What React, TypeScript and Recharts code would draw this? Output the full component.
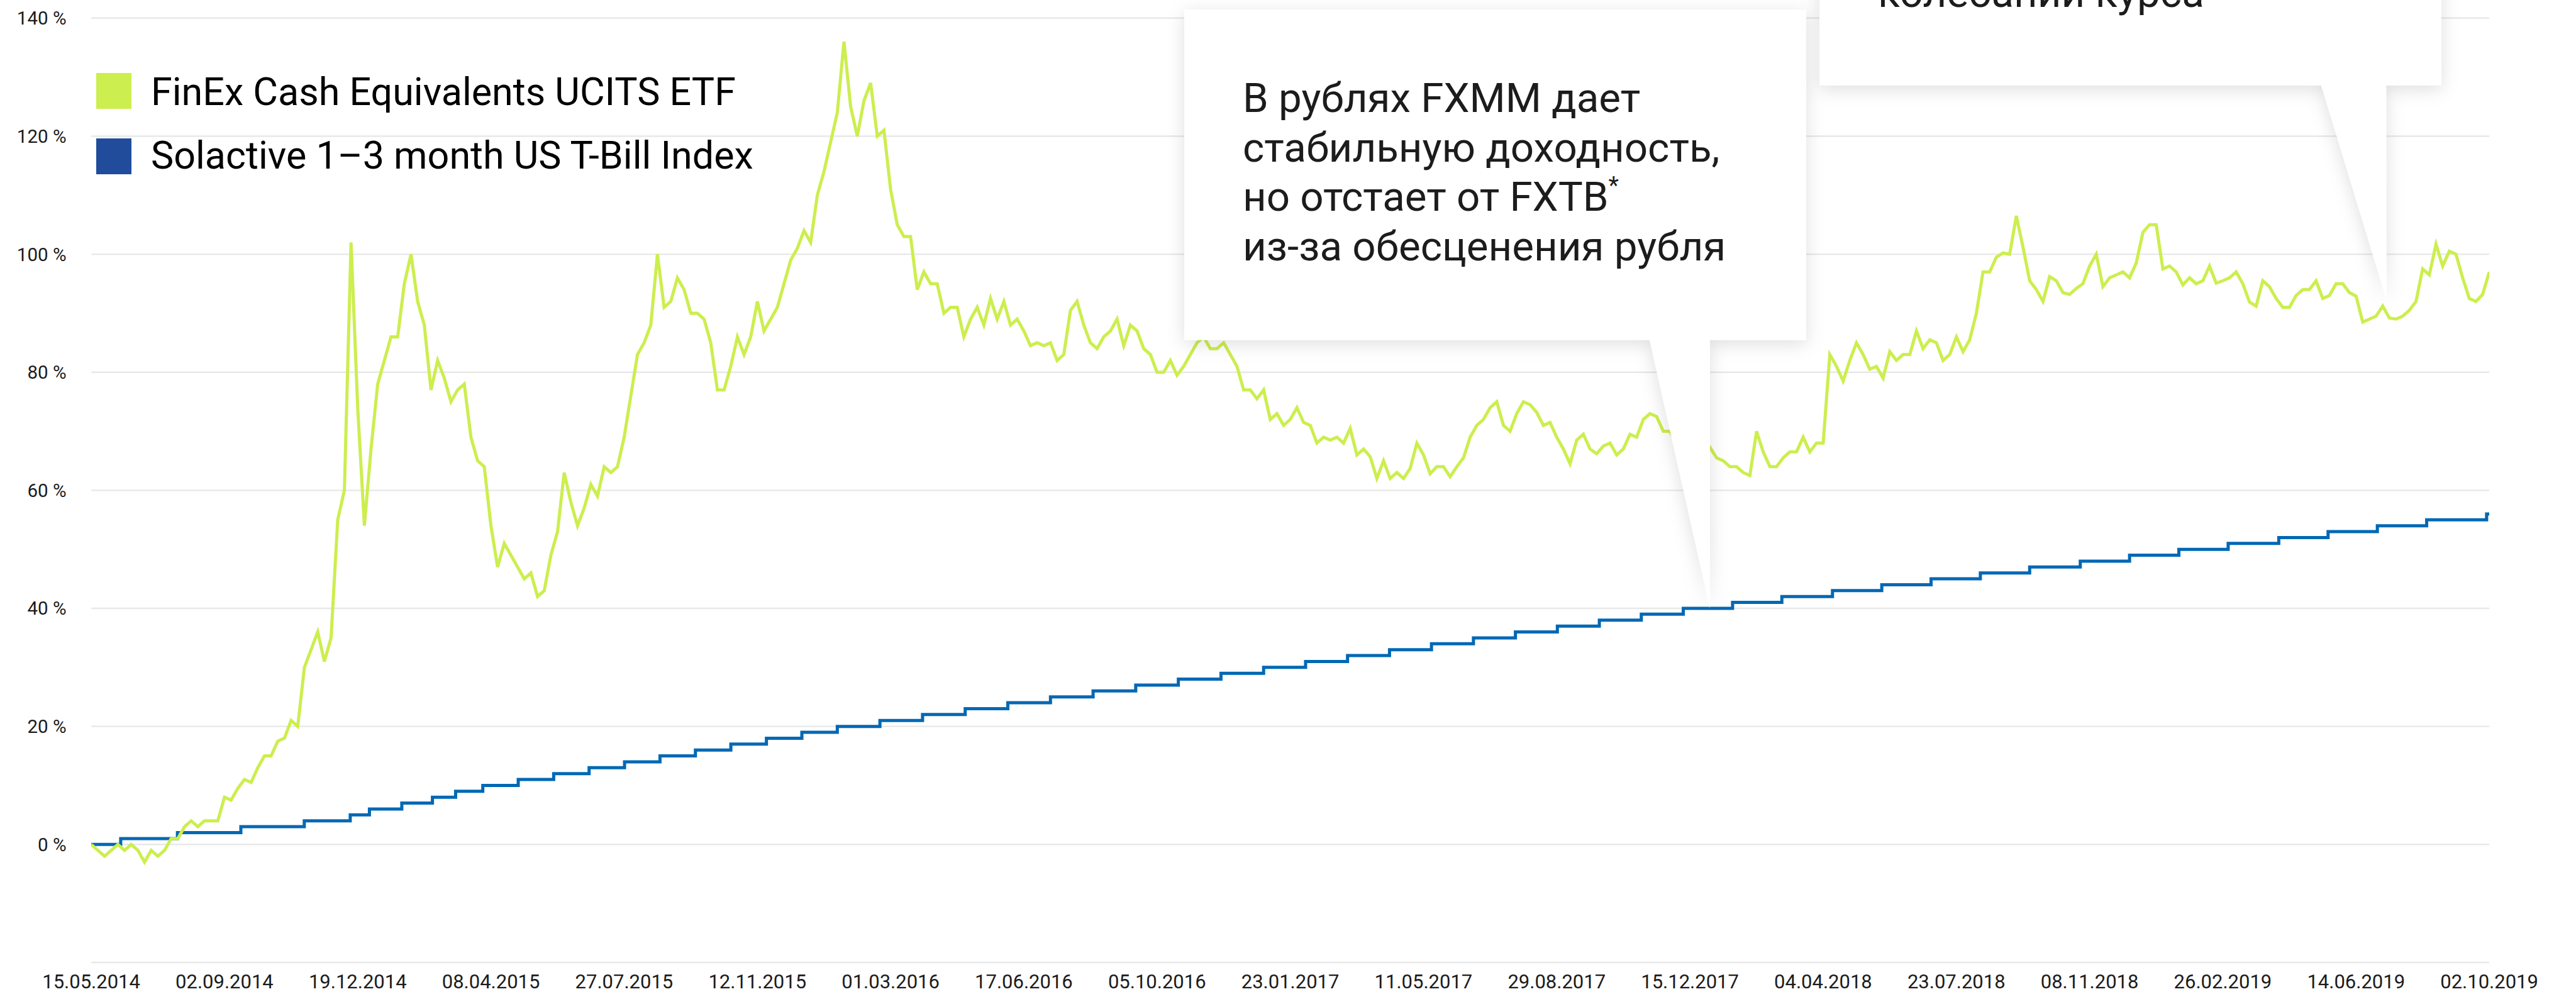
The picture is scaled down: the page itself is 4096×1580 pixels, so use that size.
import React from 'react';
import { LineChart, Line, XAxis, YAxis, CartesianGrid } from 'recharts';

// ---------- DATA ----------
const dateLabels = [
  '15.05.2014', '02.09.2014', '19.12.2014', '08.04.2015', '27.07.2015', '12.11.2015',
  '01.03.2016', '17.06.2016', '05.10.2016', '23.01.2017', '11.05.2017', '29.08.2017',
  '15.12.2017', '04.04.2018', '23.07.2018', '08.11.2018', '26.02.2019', '14.06.2019', '02.10.2019',
];

const yTicks = [-20, 0, 20, 40, 60, 80, 100, 120, 140];

// FinEx Cash Equivalents UCITS ETF, % (20 samples per date-label interval)
const finexValues = [
  0, -1, -2, -1, 0, -1, 0, -1, -3, -1, -2, -1, 1, 1, 3, 4, 3, 4, 4, 4,
  8, 7.5, 9.5, 11, 10.5, 13, 15, 15, 17.5, 18, 21, 20, 30, 33, 36, 31, 35, 55, 60, 102,
  74, 54, 67, 78, 82, 86, 86, 95, 100, 92, 88, 77, 82, 79, 75, 77, 78, 69, 65, 64,
  54, 47, 51, 49, 47, 45, 46, 42, 43, 49, 53, 63, 58, 54, 57, 61, 59, 64, 63, 64,
  69, 76, 83, 85, 88, 100, 91, 92, 96, 94, 90, 90, 89, 85, 77, 77, 81, 86, 83, 86,
  92, 87, 89, 91, 95, 99, 101, 104, 102, 110, 114, 119, 124, 136, 125, 120, 126, 129, 120, 121,
  111, 105, 103, 103, 94, 97, 95, 95, 90, 91, 91, 86, 89, 91, 88, 92.5, 89, 92, 88, 89,
  87, 84.5, 85, 84.5, 85, 82, 83, 90.5, 92, 88, 85, 84, 86, 87, 89, 84.5, 88, 87, 84, 83,
  80, 80, 82, 79.5, 81, 83, 85, 86, 84, 84, 85, 83, 81, 77, 77, 75.5, 77, 72, 73, 71,
  72, 74, 71.5, 71, 68, 69, 68.5, 69, 68, 70.5, 66, 67, 65.7, 62, 65, 62, 63, 62, 63.7, 68,
  66, 62.8, 64, 64, 62.3, 64, 65.5, 69, 71, 72, 74, 75, 71, 70, 73, 75, 74.5, 73.2, 71, 71.5,
  69, 67, 64.5, 68.5, 69.5, 67, 66.2, 67.5, 68, 66, 67, 69.5, 69, 72, 73, 72.5, 70, 70, 68, 67,
  67, 66, 67, 67.3, 65.5, 65, 64, 64, 63, 62.5, 70, 66.5, 64, 64, 65.5, 66.5, 66.5, 69, 66.5, 68,
  68, 83, 81, 78.5, 82, 85, 83, 80.5, 81, 79, 83.5, 82, 83, 83, 87, 84, 85.5, 85, 82, 83,
  86, 83.5, 85.5, 90, 97, 97, 99.5, 100.2, 100, 106.5, 101.2, 95.5, 94, 92, 96.2, 95.5, 93.5, 93.2, 94.2, 95,
  98, 100, 94.5, 96, 96.5, 97, 96, 98.5, 103.7, 105, 105, 97.5, 98, 97, 94.8, 96, 95, 95.5, 98, 95.1,
  95.5, 96, 97, 95, 91.9, 91.2, 95.5, 94.5, 92.5, 91, 91, 93, 94, 94, 95.5, 92.5, 93, 95, 95, 93.5,
  92.9, 88.5, 89, 89.5, 91.2, 89.2, 89, 89.5, 90.5, 92, 97.5, 96.5, 101.7, 98, 100.5, 100, 96, 92.5, 92, 93.2,
  97,
];

// Solactive 1–3 month US T-Bill Index: position (in date-label intervals) where each level starts
const tbillPositions = [
  0, 0.221, 0.647, 1.123, 1.599, 1.944, 2.088, 2.331, 2.561, 2.735, 2.939,
  3.205, 3.471, 3.737, 4.003, 4.269, 4.535, 4.801, 5.068, 5.334, 5.6,
  5.92, 6.24, 6.56, 6.88, 7.2, 7.52, 7.84, 8.16, 8.48, 8.8,
  9.115, 9.43, 9.745, 10.06, 10.375, 10.69, 11.005, 11.32, 11.635, 11.95,
  12.32, 12.69, 13.07, 13.44, 13.81, 14.18, 14.55, 14.93, 15.3, 15.67,
  16.04, 16.42, 16.79, 17.16, 17.53, 17.98, 18,
];
const tbillValues = [
  0, 1, 2, 3, 4, 5, 6, 7, 8, 9, 10,
  11, 12, 13, 14, 15, 16, 17, 18, 19, 20,
  21, 22, 23, 24, 25, 26, 27, 28, 29, 30,
  31, 32, 33, 34, 35, 36, 37, 38, 39, 40,
  41, 42, 43, 44, 45, 46, 47, 48, 49, 50,
  51, 52, 53, 54, 55, 56, 56,
];

const seriesNames = ['FinEx Cash Equivalents UCITS ETF', 'Solactive 1–3 month US T-Bill Index'];

// ---------- BUILT TABLES ----------
const SAMPLES_PER_INTERVAL = 20;
const finexData = finexValues.map((v, i) => ({ t: i / SAMPLES_PER_INTERVAL, v }));
const tbillData = tbillPositions.map((t, i) => ({ t, v: tbillValues[i] }));
const xTicks = dateLabels.map((_, i) => i);

// ---------- STYLE ----------
const W = 4096;
const H = 1580;
const FONT = 'Roboto, "Noto Sans", sans-serif';
const GREEN = '#CCEE4E';
const BLUE_LINE = '#0068B4';
const BLUE_LEGEND = '#214C9C';
const GRID = '#E8E8E8';
const TEXT = '#1C1C1C';

const XTick = (props: any) => {
  const { x, payload } = props;
  return (
    <text x={x} y={1570.5} textAnchor="middle" fontFamily={FONT} fontSize={31} fill={TEXT}>
      {dateLabels[payload.value]}
    </text>
  );
};

const YTick = (props: any) => {
  const { y, payload } = props;
  if (payload.value === -20) return null;
  return (
    <text x={105.5} y={y + 10.5} textAnchor="end" fontFamily={FONT} fontSize={29.5} fill={TEXT}>
      {`${payload.value} %`}
    </text>
  );
};

const CALLOUT_FONT = 65.5;

export default function App() {
  return (
    <div style={{ position: 'absolute', left: 0, top: 0, width: W, height: H, background: '#fff', overflow: 'hidden' }}>
      <LineChart
        width={W}
        height={H}
        margin={{ top: 28.8, right: 137.9, bottom: 0, left: 0 }}
        style={{ position: 'absolute', left: 0, top: 0 }}
      >
        <CartesianGrid vertical={false} stroke={GRID} strokeWidth={2.4} />
        <XAxis
          dataKey="t"
          type="number"
          domain={[0, 18]}
          ticks={xTicks}
          interval={0}
          axisLine={false}
          tickLine={false}
          height={50.1}
          tick={<XTick />}
          allowDataOverflow
        />
        <YAxis
          type="number"
          domain={[-20, 140]}
          ticks={yTicks}
          interval={0}
          axisLine={false}
          tickLine={false}
          width={145.1}
          tick={<YTick />}
        />
        <Line
          data={tbillData}
          dataKey="v"
          type="stepAfter"
          stroke={BLUE_LINE}
          strokeWidth={5}
          dot={false}
          activeDot={false}
          isAnimationActive={false}
        />
        <Line
          data={finexData}
          dataKey="v"
          type="linear"
          stroke={GREEN}
          strokeWidth={5}
          strokeLinejoin="miter"
          dot={false}
          activeDot={false}
          isAnimationActive={false}
        />
      </LineChart>

      <svg
        width={W}
        height={H}
        style={{ position: 'absolute', left: 0, top: 0, pointerEvents: 'none' }}
      >
        <defs>
          <filter id="shadow" x="-20%" y="-20%" width="140%" height="140%">
            <feDropShadow dx="0" dy="6" stdDeviation="14" floodColor="#000" floodOpacity="0.13" />
          </filter>
        </defs>

        {/* legend */}
        <rect x={153} y={116} width={56} height={57} fill={GREEN} />
        <text x={240} y={167} fontFamily={FONT} fontSize={61} fill="#000">{seriesNames[0]}</text>
        <rect x={153} y={220} width={56} height={57} fill={BLUE_LEGEND} />
        <text x={240} y={268} fontFamily={FONT} fontSize={61} fill="#000">{seriesNames[1]}</text>

        {/* callout 1 */}
        <path
          d="M1883,15.3 H2872 V540.6 H2719 L2719,967 L2623,540.6 H1883 Z"
          fill="#fff"
          filter="url(#shadow)"
        />
        <text fontFamily={FONT} fontSize={CALLOUT_FONT} fill={TEXT}>
          <tspan x={1976} y={178}>В рублях FXMM дает</tspan>
          <tspan x={1976} y={257}>стабильную доходность,</tspan>
          <tspan x={1976} y={335}>но отстает от FXTB<tspan fontSize={38} dy={-27}>*</tspan></tspan>
          <tspan x={1976} y={414}>из-за обесценения рубля</tspan>
        </text>

        {/* callout 2 */}
        <path
          d="M2893,-60 H3882 V136 H3794 L3795,477.5 L3691,136 H2893 Z"
          fill="#fff"
          filter="url(#shadow)"
        />
        <text fontFamily={FONT} fontSize={CALLOUT_FONT} fill={TEXT}>
          <tspan x={2986} y={11}>колебаний курса</tspan>
        </text>
      </svg>
    </div>
  );
}
